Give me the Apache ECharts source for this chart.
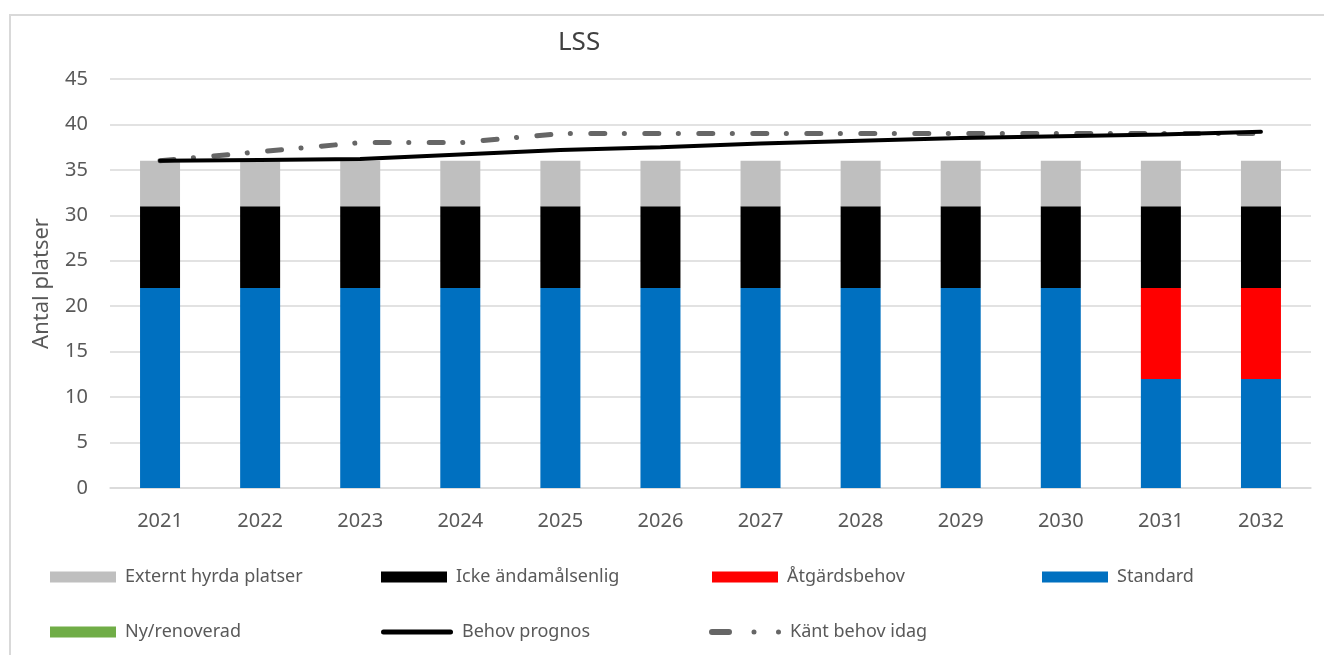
<!DOCTYPE html>
<html><head><meta charset="utf-8">
<script src="https://cdn.jsdelivr.net/npm/echarts@6/dist/echarts.min.js"></script>
<style>html,body{margin:0;padding:0;background:#fff;overflow:hidden}
#c{width:1324px;height:655px;position:relative}
#b{position:absolute;left:9px;top:14px;width:1400px;height:700px;border-left:2px solid #d9d9d9;border-top:2px solid #d9d9d9;pointer-events:none}</style>
</head><body><div id="c"></div><div id="b"></div>
<script>
const categories = ['2021','2022','2023','2024','2025','2026','2027','2028','2029','2030','2031','2032'];
const nyRenoverad = [0,0,0,0,0,0,0,0,0,0,0,0];
const standard = [22,22,22,22,22,22,22,22,22,22,12,12];
const atgardsbehov = [0,0,0,0,0,0,0,0,0,0,10,10];
const ickeAndamalsenlig = [9,9,9,9,9,9,9,9,9,9,9,9];
const externtHyrda = [5,5,5,5,5,5,5,5,5,5,5,5];
const behovPrognos = [36,36.1,36.2,36.7,37.2,37.5,37.9,38.2,38.5,38.7,38.9,39.2];
const kantBehov = [36,37,38,38,39,39,39,39,39,39,39,39];

const font = 'Noto Sans';
const txt = '#595959';
const chart = echarts.init(document.getElementById('c'));
const lineIcon = 'path://M2.5,0 L69.5,0 A2.5,2.5 0 0 1 69.5,5 L2.5,5 A2.5,2.5 0 0 1 2.5,0 Z';
const dashDotIcon = 'path://M3,0 L20,0 A3,3 0 0 1 20,6 L3,6 A3,3 0 0 1 3,0 Z M42.5,3 A2.5,2.5 0 1 1 47.5,3 A2.5,2.5 0 1 1 42.5,3 Z M67,3 A2.5,2.5 0 1 1 72,3 A2.5,2.5 0 1 1 67,3 Z';
const legendItems = [
  {name:'Externt hyrda platser', left:50, top:568, icon:'rect', w:66, h:11},
  {name:'Icke ändamålsenlig', left:381, top:568, icon:'rect', w:66, h:11},
  {name:'Åtgärdsbehov', left:712, top:568, icon:'rect', w:66, h:11},
  {name:'Standard', left:1042, top:568, icon:'rect', w:66, h:11},
  {name:'Ny/renoverad', left:50, top:623, icon:'rect', w:66, h:11},
  {name:'Behov prognos', left:381, top:623, icon:lineIcon, w:72, h:5, color:'#000'},
  {name:'Känt behov idag', left:709, top:623, icon:dashDotIcon, w:72, h:6, color:'#666666'}
];
const legends = legendItems.map(l => {
  const d = {name:l.name, icon:l.icon};
  if (l.color) { d.itemStyle = {color:l.color, borderWidth:0}; d.lineStyle = {width:0}; }
  return {
    data:[d], left:l.left, top:l.top, itemWidth:l.w, itemHeight:l.h, itemGap:0,
    padding:0, textStyle:{fontFamily:font, fontSize:18, color:txt, padding:[0,0,0,4]}, selectedMode:false
  };
});
const barBase = {type:'bar', stack:'s', barWidth:40};
chart.setOption({
  animation:false,
  title:{text:'LSS', left:553, top:25, textStyle:{fontFamily:font, fontSize:26, fontWeight:'normal', color:'#404040'}},
  legend:legends,
  grid:{left:110, right:13, top:79, bottom:167},
  xAxis:{type:'category', data:categories,
    axisLine:{lineStyle:{color:'#d9d9d9', width:1.5}}, axisTick:{show:false},
    axisLabel:{fontFamily:font, fontSize:20, color:txt, margin:23}},
  yAxis:{type:'value', min:0, max:45, interval:5,
    name:'Antal platser', nameLocation:'middle', nameGap:57, nameRotate:90,
    nameTextStyle:{fontFamily:font, fontSize:22, color:txt},
    axisLabel:{fontFamily:font, fontSize:20, color:txt, margin:22},
    splitLine:{lineStyle:{color:'#d9d9d9', width:1.5}}},
  series:[
    Object.assign({}, barBase, {name:'Ny/renoverad', data:nyRenoverad, itemStyle:{color:'#70ad47'}}),
    Object.assign({}, barBase, {name:'Standard', data:standard, itemStyle:{color:'#0070c0'}}),
    Object.assign({}, barBase, {name:'Åtgärdsbehov', data:atgardsbehov, itemStyle:{color:'#ff0000'}}),
    Object.assign({}, barBase, {name:'Icke ändamålsenlig', data:ickeAndamalsenlig, itemStyle:{color:'#000000'}}),
    Object.assign({}, barBase, {name:'Externt hyrda platser', data:externtHyrda, itemStyle:{color:'#bfbfbf'}}),
    {name:'Behov prognos', type:'line', data:behovPrognos, symbol:'none', z:5,
      lineStyle:{color:'#000', width:4, cap:'round'}, itemStyle:{color:'#000'}},
    {name:'Känt behov idag', type:'line', data:kantBehov, symbol:'none', z:4,
      lineStyle:{color:'#666666', width:5, cap:'round', type:[14,19.5,0.1,20.4]}, itemStyle:{color:'#666666'}}
  ]
});
</script></body></html>
